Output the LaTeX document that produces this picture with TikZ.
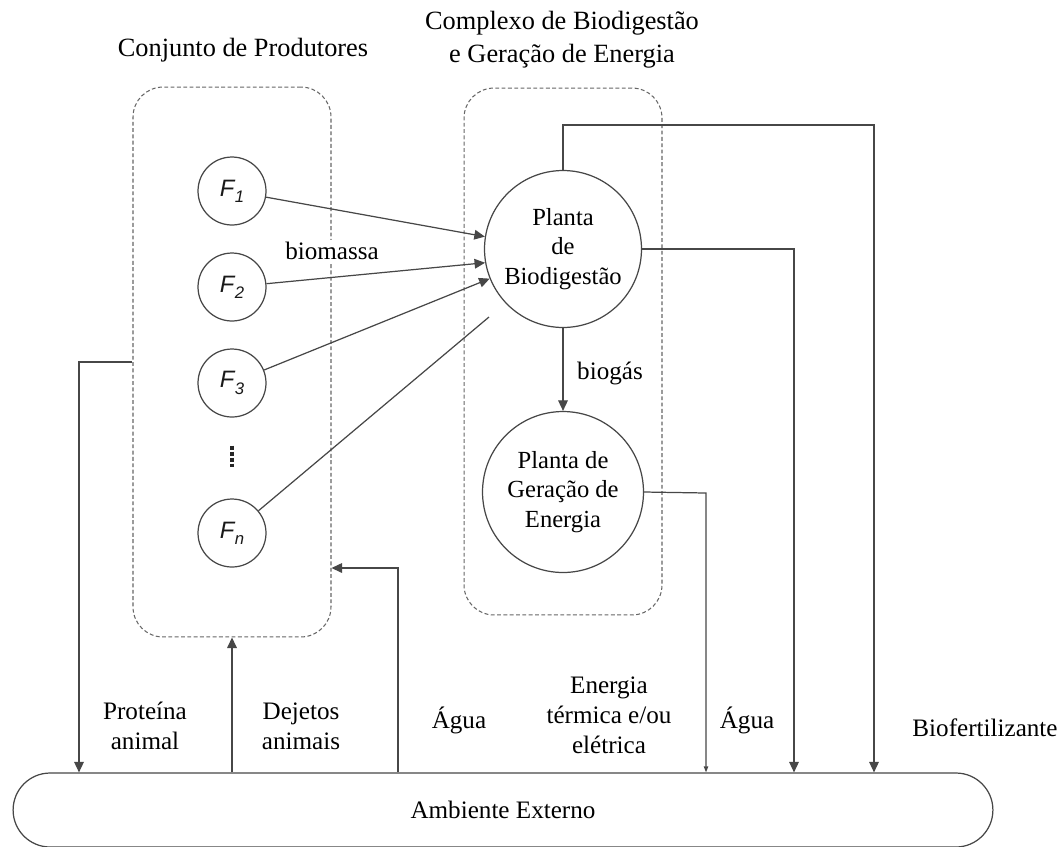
\documentclass[tikz,border=0pt]{standalone}
\usepackage{fontspec}
\setmainfont{Liberation Serif}
\newfontfamily\arialfont{Liberation Sans}
\usetikzlibrary{arrows.meta}
\newcommand{\Fsub}[1]{{\arialfont\itshape F\kern0.3pt\raisebox{-0.5ex}{\fontsize{9.5}{11}\selectfont #1}}}
\begin{document}
\begin{tikzpicture}[x=0.02cm,y=-0.02cm,
  ln/.style={draw=black!72, line width=0.7pt},
  arr/.style={ln, -{Triangle[length=6pt,width=5.5pt]}},
  smallarr/.style={ln, -{Triangle[length=3.5pt,width=2.5pt]}},
  dbox/.style={draw=black!60, line width=0.6pt, dash pattern=on 2.2pt off 1.4pt, rounded corners=0.6cm, minimum width=3.96cm},
  fnode/.style={circle, ln, fill=white, minimum size=1.36cm, inner sep=0pt, font=\fontsize{13.5}{15}\selectfont, text=black!90},
  bnode/.style={circle, ln, fill=white, minimum size=3.14cm, inner sep=0pt, align=center, font=\fontsize{14}{16.8}\selectfont, text=black},
  lbl/.style={align=center, font=\fontsize{14.3}{17}\selectfont, text=black},
  ]
\useasboundingbox (0,0) rectangle (1064,846);

% titles
\node[lbl, font=\fontsize{15}{18}\selectfont] (t1) at (243,50) {Conjunto de Produtores};
\node[lbl, font=\fontsize{15}{18.7}\selectfont] (t2) at (562,40) {Complexo de Biodigestão\\e Geração de Energia};

% dashed group boxes
\node[dbox, minimum height=11cm] (prod) at (232,362) {};
\node[dbox, minimum height=10.54cm] (cplx) at (563,351.5) {};

% producers
\node[fnode] (f1) at (232,191) {\Fsub{1}};
\node[fnode] (f2) at (232,287) {\Fsub{2}};
\node[fnode] (f3) at (232,383) {\Fsub{3}};
\node[inner sep=0pt, minimum width=4pt, minimum height=22pt*0.567] (dots) at (232,457) {};
\draw[black!85, line width=2.6pt, dash pattern=on 2.2pt off 1.2pt] (dots.north) -- (dots.south);
\node[fnode] (fn) at (232,533) {\Fsub{n}};

% plants
\node[bnode] (bd) at (563,249) {Planta\\de\\Biodigestão};
\node[bnode, minimum size=3.22cm] (ge) at (563,492) {Planta de\\Geração de\\Energia};

% external environment
\node[draw=black!72, line width=0.7pt, rounded corners=0.74cm, minimum width=19.6cm, minimum height=1.48cm, lbl] (amb) at (503,810) {Ambiente Externo};

% biomass arrows
\coordinate (fnend) at (489,317);
\draw[arr] (f1) -- (bd.171);
\draw[arr] (f2) -- (bd.190);
\draw[arr] (f3) -- (bd.202);
\draw[ln] (fn) -- (fnend);
\node[lbl, fill=white, inner sep=1pt] (biom) at (332,251) {biomassa};

% biogas
\draw[arr] (bd.south) -- (ge.north);
\node[lbl] (biog) at (610,373) {biogás};

% outputs to environment
\coordinate (c1) at (874,125);
\coordinate (c2) at (794,249);
\coordinate (c3) at (706,493);
\draw[arr] (bd.north) |- (c1) -- (c1 |- amb.north);
\draw[arr] (bd.east) -- (c2) -- (c2 |- amb.north);
\draw[smallarr] (ge.east) -- (c3) -- (c3 |- amb.north);

% flows with producers
\coordinate (c4) at (79,362);
\coordinate (c5) at (232,700);
\coordinate (c6) at (398,568);
\draw[arr] (c4 -| prod.west) -- (c4) -- (c4 |- amb.north);
\draw[arr] (c5 |- amb.north) -- (prod.south);
\draw[arr] (c6 |- amb.north) -- (c6) -- (c6 -| prod.east);

% labels
\node[lbl] (lp) at (145,726) {Proteína\\animal};
\node[lbl] (ld) at (301,726) {Dejetos\\animais};
\node[lbl] (la1) at (459,720) {Água};
\node[lbl] (le) at (609,715) {Energia\\térmica e/ou\\elétrica};
\node[lbl] (la2) at (747,720) {Água};
\node[lbl] (lb) at (985,728) {Biofertilizante};
\end{tikzpicture}
\end{document}
